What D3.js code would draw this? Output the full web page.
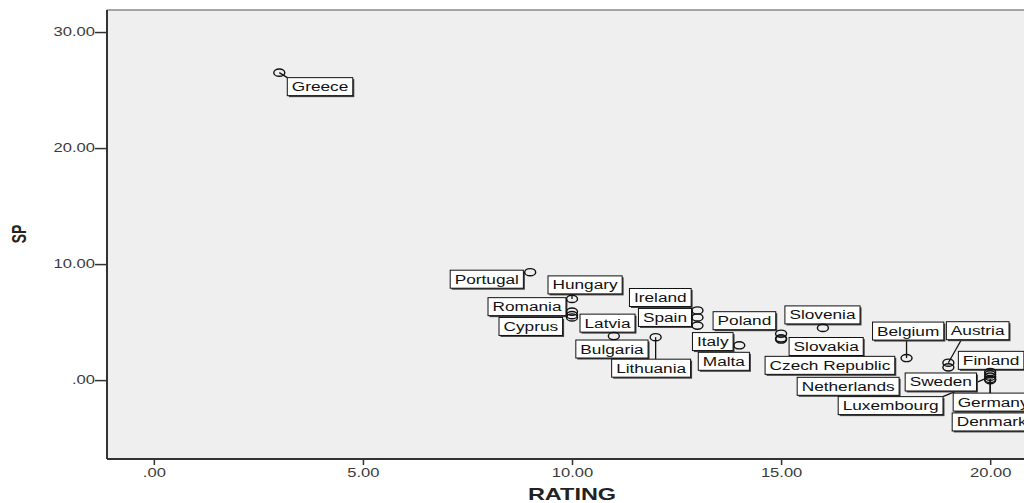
<!DOCTYPE html>
<html>
<head>
<meta charset="utf-8">
<script src="https://cdn.jsdelivr.net/npm/d3@7"></script>
<style>
  body { margin: 0; background: #fff; }
  svg { display: block; font-family: "Liberation Sans", Arial, sans-serif; }
</style>
</head>
<body>
<svg width="1024" height="503"></svg>
<script>
var WIDTH = 1024;
var HEIGHT = 503;

// data
var countries = ["Greece", "Portugal", "Hungary", "Romania", "Latvia", "Cyprus",
    "Bulgaria", "Lithuania", "Ireland", "Spain", "Italy", "Malta",
    "Poland", "Slovakia", "Czech Republic", "Slovenia", "Belgium", "Austria",
    "Finland", "Sweden", "Netherlands", "Luxembourg", "Germany", "Denmark"];
var rating = [3, 9, 10, 10, 10, 10, 11, 12, 13, 13, 13, 14,
    15, 15, 15, 16, 18, 19, 19, 20, 20, 20, 20, 20];
var sp = [26.5, 9.3, 7.0, 5.9, 5.6, 5.4, 3.8, 3.7, 6.0, 5.4, 4.7, 3.0,
    4.0, 3.5, 3.6, 4.5, 1.9, 1.5, 1.1, 0.7, 0.5, 0.3, 0.0, 0.1];
var xTicks = [0, 5, 10, 15, 20];
var yTicks = [0, 10, 20, 30];

// where each label box sits relative to its point (px), like SPSS placed them
var labelOffset = {
    "Greece": [8, 5], "Portugal": [-80, -2], "Hungary": [-24, -23],
    "Romania": [-84, -14], "Latvia": [8, -1], "Cyprus": [-73, 0],
    "Bulgaria": [-38, 4], "Lithuania": [-44, 22], "Ireland": [-68, -22],
    "Spain": [-59, -9], "Italy": [-5, 7], "Malta": [-41, 7],
    "Poland": [-68, -22], "Slovakia": [8, -2], "Czech Republic": [-16, 18],
    "Slovenia": [-38, -22], "Belgium": [-34, -36], "Austria": [-2, -41],
    "Finland": [10, -16], "Sweden": [-85, 1], "Netherlands": [-193, 3],
    "Luxembourg": [-152, 20], "Germany": [-37, 13], "Denmark": [-38, 34]
};
var withLeader = ["Greece", "Hungary", "Lithuania", "Belgium", "Austria",
    "Luxembourg", "Germany", "Denmark"];

var STRETCH = 1.38;
var BOX_H = 18;

var svg = d3.select("svg");

var plotLeft = 107, plotTop = 10, plotBottom = 459;
var x = d3.scaleLinear().domain([-1.12, 21]).range([plotLeft, 1032]);
var y = d3.scaleLinear().domain([-6.8, 31.9]).range([plotBottom, plotTop]);

var fmt = function(v) { return v === 0 ? ".00" : d3.format(".2f")(v); };

// plot background and frame
svg.append("rect")
    .attr("x", plotLeft).attr("y", plotTop)
    .attr("width", WIDTH - plotLeft + 5).attr("height", plotBottom - plotTop)
    .attr("fill", "#efefef");
svg.append("line")
    .attr("x1", plotLeft).attr("x2", WIDTH).attr("y1", plotTop).attr("y2", plotTop)
    .attr("stroke", "#888").attr("stroke-width", 1.5);

// axes
var xAxis = svg.append("g")
    .attr("transform", "translate(0," + plotBottom + ")")
    .call(d3.axisBottom(x).tickValues(xTicks).tickFormat(fmt).tickSize(6).tickPadding(3));
var yAxis = svg.append("g")
    .attr("transform", "translate(" + plotLeft + ",0)")
    .call(d3.axisLeft(y).tickValues(yTicks).tickFormat(fmt).tickSize(12).tickPadding(0));

[xAxis, yAxis].forEach(function(g) {
    g.select(".domain").remove();
    g.selectAll(".tick line").attr("stroke", "#333").attr("stroke-width", 1.5);
    g.selectAll(".tick text")
        .attr("fill", "#3a3a3a")
        .style("font-size", "12px");
});
xAxis.selectAll(".tick text")
    .attr("transform", "scale(" + STRETCH + ",1)");
yAxis.selectAll(".tick text")
    .attr("x", 0)
    .attr("transform", "translate(-12,0) scale(" + STRETCH + ",1)");

svg.append("line")
    .attr("x1", plotLeft).attr("x2", plotLeft).attr("y1", plotTop).attr("y2", plotBottom)
    .attr("stroke", "#333").attr("stroke-width", 2);
svg.append("line")
    .attr("x1", plotLeft).attr("x2", WIDTH).attr("y1", plotBottom).attr("y2", plotBottom)
    .attr("stroke", "#333").attr("stroke-width", 2);

// axis titles
svg.append("text")
    .attr("transform", "translate(572,500) scale(" + STRETCH + ",1)")
    .attr("text-anchor", "middle")
    .style("font-size", "17px").style("font-weight", "bold")
    .attr("fill", "#222")
    .text("RATING");
svg.append("text")
    .attr("transform", "translate(26,234) scale(" + STRETCH + ",1) rotate(-90)")
    .attr("text-anchor", "middle")
    .style("font-size", "14px").style("font-weight", "bold")
    .attr("fill", "#222")
    .text("SP");

// points
var points = countries.map(function(name, i) {
    return { name: name, rating: rating[i], sp: sp[i] };
});
points.forEach(function(d) {
    d.px = x(d.rating);
    d.py = y(d.sp);
    d.bx = d.px + labelOffset[d.name][0];
    d.by = d.py + labelOffset[d.name][1];
});

var leaderLayer = svg.append("g");
var labelLayer = svg.append("g");
var pointLayer = svg.append("g");

var labels = labelLayer.selectAll("g")
    .data(points)
    .enter()
    .append("g")
    .attr("transform", function(d) { return "translate(" + d.bx + "," + d.by + ")"; });

labels.each(function(d) {
    var g = d3.select(this);
    var shadow = g.append("rect").attr("x", 1.5).attr("y", 1.5)
        .attr("height", BOX_H).attr("fill", "#444");
    var box = g.append("rect").attr("height", BOX_H)
        .attr("fill", "#fff").attr("stroke", "#111").attr("stroke-width", 1);
    var t = g.append("text")
        .attr("transform", "translate(4.5,13.5) scale(" + STRETCH + ",1)")
        .style("font-size", "12.5px")
        .attr("fill", "#111")
        .text(d.name);
    d.bw = t.node().getComputedTextLength() * STRETCH + 9;
    shadow.attr("width", d.bw);
    box.attr("width", d.bw);
});

// leader end: nearest point on the box, kept away from the corners when the point is above/below it
function leaderX(d) {
    if (d.px >= d.bx && d.px <= d.bx + d.bw) {
        return Math.max(d.bx + 15, Math.min(d.bx + d.bw - 15, d.px));
    }
    return Math.max(d.bx, Math.min(d.bx + d.bw, d.px));
}

leaderLayer.selectAll("line")
    .data(points.filter(function(d) { return withLeader.indexOf(d.name) >= 0; }))
    .enter()
    .append("line")
    .attr("x1", function(d) { return d.px; })
    .attr("y1", function(d) { return d.py; })
    .attr("x2", leaderX)
    .attr("y2", function(d) { return Math.max(d.by, Math.min(d.by + BOX_H, d.py)); })
    .attr("stroke", "#111")
    .attr("stroke-width", 1.3);

pointLayer.selectAll("ellipse")
    .data(points)
    .enter()
    .append("ellipse")
    .attr("cx", function(d) { return d.px; })
    .attr("cy", function(d) { return d.py; })
    .attr("rx", 5.5)
    .attr("ry", 3.6)
    .attr("fill", "none")
    .attr("stroke", "#111")
    .attr("stroke-width", 1.4);
</script>
</body>
</html>
